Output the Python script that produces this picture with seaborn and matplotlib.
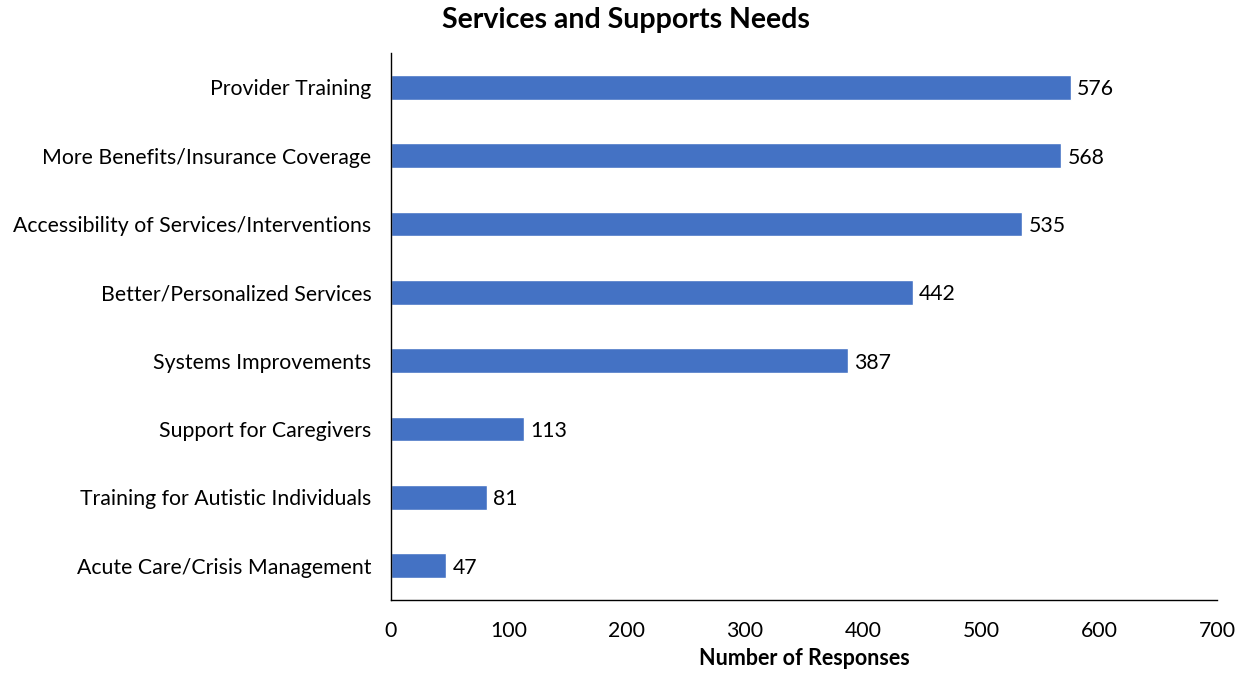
import matplotlib
matplotlib.use("Agg")
import matplotlib.pyplot as plt
import seaborn as sns
import pandas as pd

categories = [
    "Provider Training",
    "More Benefits/Insurance Coverage",
    "Accessibility of Services/Interventions",
    "Better/Personalized Services",
    "Systems Improvements",
    "Support for Caregivers",
    "Training for Autistic Individuals",
    "Acute Care/Crisis Management",
]
responses = [576, 568, 535, 442, 387, 113, 81, 47]
x_ticks = [0, 100, 200, 300, 400, 500, 600, 700]

df = pd.DataFrame({"category": categories, "responses": responses})

sns.set_theme(style="white", rc={
    "text.color": "black",
    "axes.labelcolor": "black",
    "xtick.color": "black",
    "ytick.color": "black",
})
plt.rcParams["font.family"] = ["Lato", "DejaVu Sans"]

FS = 15.3

fig = plt.figure(figsize=(12.45, 6.74), dpi=100)
ax = fig.add_axes([0.314, 0.110, 0.6635, 0.811])

sns.barplot(data=df, x="responses", y="category", color="#4472C4",
            saturation=1, width=0.36, ax=ax, orient="h")

for i, v in enumerate(responses):
    ax.text(v + 5.5, i, str(v), va="center_baseline", ha="left",
            fontsize=FS, color="black")

ax.set_xlim(0, 700)
ax.set_ylim(len(categories) - 0.5, -0.5)
ax.set_xticks(x_ticks)
ax.set_xticklabels([str(t) for t in x_ticks], fontsize=FS)
ax.tick_params(axis="x", direction="out", length=7, width=1, color="black", pad=8)
ax.tick_params(axis="y", length=0, labelsize=FS, pad=14)
ax.set_ylabel("")
ax.set_xlabel("Number of Responses", fontsize=15.5, fontweight="bold", labelpad=5)
ax.set_title("Services and Supports Needs", fontsize=20.5, fontweight="bold",
             x=0.285, pad=18, color="black")

for s in ["top", "right"]:
    ax.spines[s].set_visible(False)
for s in ["left", "bottom"]:
    ax.spines[s].set_color("black")
    ax.spines[s].set_linewidth(1)

fig.savefig("out.png", dpi=100, facecolor="white")
